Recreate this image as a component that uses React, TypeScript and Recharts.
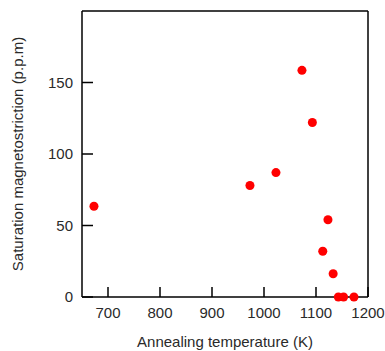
import { ScatterChart, Scatter, XAxis, YAxis, ReferenceLine, Label } from "recharts";

const temperatures = [673, 973, 1023, 1073, 1093, 1113, 1123, 1133, 1143, 1153, 1173];
const magnetostriction = [63.5, 78, 87, 158.5, 122, 32, 54, 16.3, 0, 0, 0];
const xTicks = [700, 800, 900, 1000, 1100, 1200];
const yTicks = [0, 50, 100, 150];

const points = temperatures.map((t, i) => ({ t, lambda: magnetostriction[i] }));

const font = "'Liberation Sans', Arial, sans-serif";
const textColor = "#2a2a2a";

export default function App() {
  return (
    <div style={{ position: "absolute", left: 0, top: 0 }}>
      <ScatterChart
        width={385}
        height={351}
        margin={{ top: 11, right: 17, bottom: 24, left: 22 }}
        style={{ fontFamily: font }}
      >
        <XAxis
          type="number"
          dataKey="t"
          domain={[650, 1200]}
          ticks={xTicks}
          allowDataOverflow
          height={30}
          tickSize={-10}
          tickMargin={20}
          stroke="#000"
          strokeWidth={1.5}
          tick={{ fill: textColor, fontSize: 15, fontFamily: font }}
        >
          <Label
            content={({ viewBox }: any) => (
              <text
                x={viewBox.x + viewBox.width / 2}
                y={347}
                textAnchor="middle"
                fontSize={15}
                fontFamily={font}
                fill={textColor}
              >
                Annealing temperature (K)
              </text>
            )}
          />
        </XAxis>
        <YAxis
          type="number"
          dataKey="lambda"
          domain={[0, 200]}
          ticks={yTicks}
          width={60}
          tickSize={-11}
          tickMargin={20}
          stroke="#000"
          strokeWidth={1.5}
          tick={{ fill: textColor, fontSize: 15, fontFamily: font }}
        >
          <Label
            content={({ viewBox }: any) => {
              const cy = viewBox.y + viewBox.height / 2;
              return (
                <text
                  x={23}
                  y={cy}
                  textAnchor="middle"
                  fontSize={15}
                  fontFamily={font}
                  fill={textColor}
                  transform={`rotate(-90, 23, ${cy})`}
                >
                  Saturation magnetostriction (p.p.m)
                </text>
              );
            }}
          />
        </YAxis>
        <ReferenceLine y={200} stroke="#000" strokeWidth={1.5} />
        <ReferenceLine x={1200} stroke="#000" strokeWidth={1.5} />
        <Scatter data={points} fill="#ff0000" isAnimationActive={false} />
      </ScatterChart>
    </div>
  );
}
